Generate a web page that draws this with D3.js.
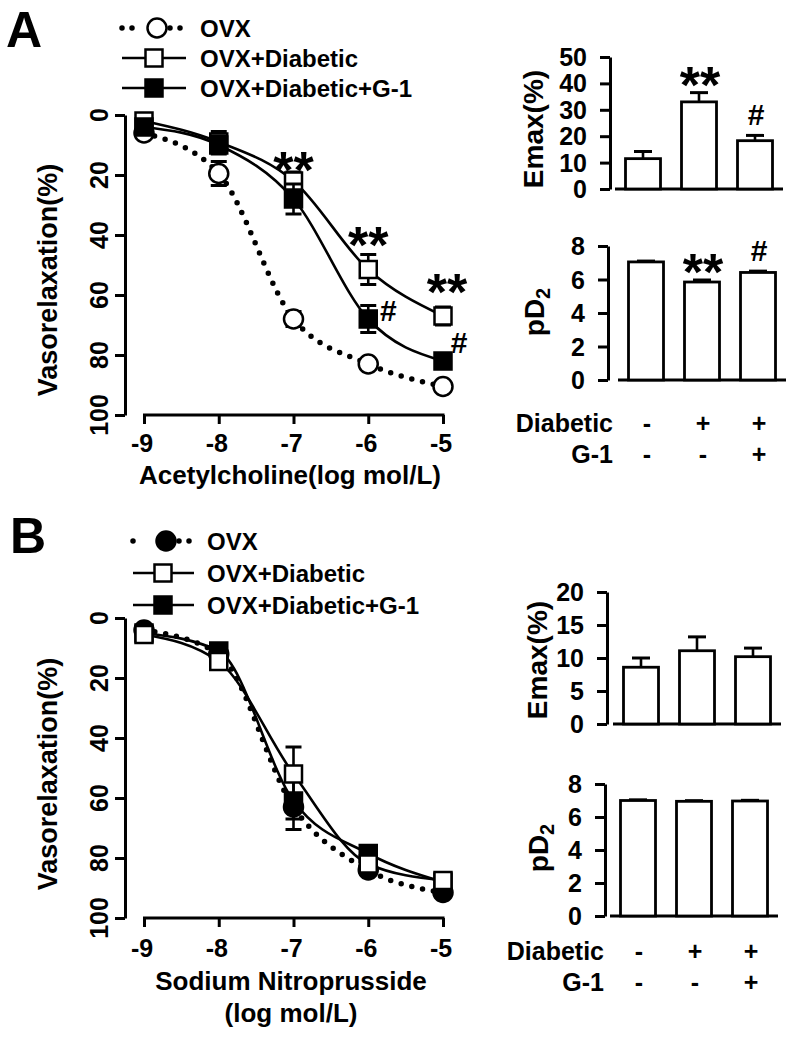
<!DOCTYPE html>
<html><head><meta charset="utf-8">
<script src="https://cdn.jsdelivr.net/npm/d3@7"></script>
<style>
body{margin:0;background:#fff}
svg{display:block}
text{font-family:"Liberation Sans",Arial,Helvetica,sans-serif;font-weight:bold;fill:#000}
</style>
</head><body>
<svg id="c" width="796" height="1037"></svg>
<script>
// ---------- data ----------
const conc = [-9, -8, -7, -6, -5];
const xTickValues = [-9, -8, -7, -6, -5];
const vasoTicks = [0, 20, 40, 60, 80, 100];
const legendNames = ["OVX", "OVX+Diabetic", "OVX+Diabetic+G-1"];

// Panel A: Acetylcholine
const achOVX = [6, 19.5, 68, 83, 90.5];
const achOVXErr = [1.5, 4, 2.5, 1.5, 1.5];
const achDiab = [2, 9, 22, 51.5, 67];
const achDiabErr = [2, 3.5, 3, 5, 3];
const achG1 = [4, 10, 28, 68, 82];
const achG1Err = [1.5, 3, 5, 4.5, 2.5];

// Panel B: Sodium nitroprusside
const snpOVX = [4, 12, 63, 84, 91.5];
const snpOVXErr = [1, 2, 4, 1.5, 1.5];
const snpDiab = [5.5, 14.5, 52, 82, 87.5];
const snpDiabErr = [1.5, 2, 9, 2, 1.5];
const snpG1 = [5, 11, 61, 78.5, 88];
const snpG1Err = [1, 2, 9.5, 1.5, 1.5];

// Bar charts
const groups = ["OVX", "OVX+Diabetic", "OVX+Diabetic+G-1"];
const diabeticSigns = ["-", "+", "+"];
const g1Signs = ["-", "-", "+"];
const emaxA = [11.5, 33, 18.3];
const emaxAErr = [2.7, 3.5, 2];
const pd2A = [7.05, 5.85, 6.42];
const pd2AErr = [0.05, 0.12, 0.08];
const emaxB = [8.6, 11.1, 10.2];
const emaxBErr = [1.4, 2.1, 1.3];
const pd2B = [7.0, 6.95, 6.97];
const pd2BErr = [0.04, 0.04, 0.04];
const emaxATicks = [0, 10, 20, 30, 40, 50];
const emaxBTicks = [0, 5, 10, 15, 20];
const pd2Ticks = [0, 2, 4, 6, 8];

// ---------- drawing ----------
const svg = d3.select("#c");
svg.append("rect").attr("width", 796).attr("height", 1037).attr("fill", "#fff");

const SW = 3;

function styleAxis(sel) {
  sel.selectAll("path,line").attr("stroke", "#000").attr("stroke-width", SW);
  sel.selectAll("text").remove();
}

function marker(g, type, cx, cy) {
  if (type === "circleOpen" || type === "circleFilled") {
    g.append("circle").attr("cx", cx).attr("cy", cy).attr("r", 9.5)
      .attr("fill", type === "circleOpen" ? "#fff" : "#000")
      .attr("stroke", "#000").attr("stroke-width", 2.5);
  } else {
    g.append("rect").attr("x", cx - 8.5).attr("y", cy - 8.5).attr("width", 17).attr("height", 17)
      .attr("fill", type === "squareOpen" ? "#fff" : "#000")
      .attr("stroke", "#000").attr("stroke-width", 2.5);
  }
}

function starText(g, txt, cx, cy) {
  if (txt === "**") {
    g.append("text").attr("x", cx).attr("y", cy + 28).attr("text-anchor", "middle")
      .attr("font-size", 52).text(txt);
  } else {
    g.append("text").attr("x", cx).attr("y", cy + 10).attr("text-anchor", "middle")
      .attr("font-size", 30).text(txt);
  }
}

function drawDose(o) {
  const g = svg.append("g");
  const x = d3.scaleLinear().domain([-9, -5]).range([144, 443]);
  const y = d3.scaleLinear().domain([0, 100]).range([o.top, o.top + 300]);

  const ya = g.append("g").attr("transform", "translate(125,0)")
    .call(d3.axisLeft(y).tickValues(vasoTicks).tickSize(10).tickSizeOuter(0));
  styleAxis(ya);
  const xa = g.append("g").attr("transform", `translate(0,${o.top + 300})`)
    .call(d3.axisBottom(x).tickValues(xTickValues).tickSize(9).tickSizeOuter(0));
  styleAxis(xa);
  xa.select("path.domain").attr("d", `M${x(-9) - 1},0H${x(-5) + 1.5}`);

  g.selectAll(".ylab").data(vasoTicks).join("text")
    .attr("transform", t => `translate(108,${y(t)}) rotate(-90)`)
    .attr("text-anchor", "middle").attr("font-size", 25).text(t => t);
  g.selectAll(".xlab").data(xTickValues).join("text")
    .attr("x", t => x(t) - 2).attr("y", o.top + 300 + o.tickLabDy)
    .attr("text-anchor", "middle").attr("font-size", 25).text(t => t);

  g.append("text").attr("transform", `translate(57,${o.titleY}) rotate(-90)`)
    .attr("text-anchor", "middle").attr("font-size", 27).text("Vasorelaxation(%)");
  o.xTitle.forEach((t, i) => {
    g.append("text").attr("x", o.xTitleX).attr("y", o.xTitleBase + i * 32)
      .attr("text-anchor", "middle").attr("font-size", 26).text(t);
  });

  const line = d3.line().x(d => x(d.c)).y(d => y(d.v)).curve(d3.curveMonotoneX);
  const series = o.series.map(s => ({ ...s, pts: conc.map((c, i) => ({ c, v: s.vals[i], e: s.errs[i] })) }));
  series.forEach(s => {
    const p = g.append("path").attr("d", line(s.pts)).attr("fill", "none").attr("stroke", "#000");
    if (s.dotted) p.attr("stroke-width", 5.5).attr("stroke-dasharray", "0 11").attr("stroke-linecap", "round");
    else p.attr("stroke-width", 2.6);
  });
  series.forEach(s => {
    s.pts.forEach(d => {
      const cx = x(d.c);
      g.append("line").attr("x1", cx).attr("x2", cx).attr("y1", y(d.v - d.e)).attr("y2", y(d.v + d.e))
        .attr("stroke", "#000").attr("stroke-width", 2.6);
      [d.v - d.e, d.v + d.e].forEach(v => g.append("line").attr("x1", cx - 8).attr("x2", cx + 8)
        .attr("y1", y(v)).attr("y2", y(v)).attr("stroke", "#000").attr("stroke-width", 3));
      marker(g, s.marker, cx, y(d.v));
    });
  });
  (o.notes || []).forEach(n => starText(g, n.t, x(n.c) + n.dx, y(n.v)));

  // legend
  o.legend.rows.forEach((ry, i) => {
    const s = o.series.find(k => k.name === legendNames[i]);
    const L = o.legend;
    if (s.dotted) {
      [[L.x1, L.mx - 20], [L.mx + 16, L.x2]].forEach(([a, b]) =>
        g.append("path").attr("d", `M${a},${ry}H${b}`).attr("stroke", "#000").attr("stroke-width", 5.5)
          .attr("stroke-dasharray", "0 10").attr("stroke-linecap", "round"));
      marker(g, s.marker, L.mx + 3, ry);
    } else {
      g.append("line").attr("x1", L.x1).attr("x2", L.x2).attr("y1", ry).attr("y2", ry)
        .attr("stroke", "#000").attr("stroke-width", 2.6);
      marker(g, s.marker, L.mx, ry);
    }
    g.append("text").attr("x", L.tx).attr("y", ry + 9).attr("font-size", 24).text(legendNames[i]);
  });
  g.append("text").attr("x", o.letterX).attr("y", o.letterY).attr("font-size", 50).text(o.letter);
}

function drawBars(o) {
  const g = svg.append("g");
  const x = d3.scaleBand().domain(groups).range([o.x0, o.x0 + 168]).paddingInner(0.375).paddingOuter(0.1875);
  const y = d3.scaleLinear().domain([0, o.ticks[o.ticks.length - 1]]).range([o.base, o.topPx]);
  const ya = g.append("g").attr("transform", `translate(${o.axisX},0)`)
    .call(d3.axisLeft(y).tickValues(o.ticks).tickSize(10).tickSizeOuter(0));
  styleAxis(ya);
  g.selectAll(".bl").data(o.ticks).join("text")
    .attr("x", o.axisX - 23).attr("y", t => y(t) + 9).attr("text-anchor", "end")
    .attr("font-size", 25).text(t => t);
  g.append("line").attr("x1", o.x0).attr("x2", o.x0 + 168).attr("y1", y(0)).attr("y2", y(0))
    .attr("stroke", "#000").attr("stroke-width", SW);
  groups.forEach((k, i) => {
    const v = o.vals[i], e = o.errs[i], cx = x(k) + x.bandwidth() / 2;
    g.append("line").attr("x1", cx).attr("x2", cx).attr("y1", y(v)).attr("y2", y(v + e))
      .attr("stroke", "#000").attr("stroke-width", 2.6);
    g.append("line").attr("x1", cx - 9).attr("x2", cx + 9).attr("y1", y(v + e)).attr("y2", y(v + e))
      .attr("stroke", "#000").attr("stroke-width", 3);
    g.append("rect").attr("x", x(k)).attr("y", y(v)).attr("width", x.bandwidth()).attr("height", y(0) - y(v))
      .attr("fill", "#fff").attr("stroke", "#000").attr("stroke-width", 2.8);
    if (o.notes && o.notes[i]) starText(g, o.notes[i], cx + 1, y(v + e) - (o.notes[i] === "**" ? 18 : 20));
  });
  const t = g.append("text").attr("transform", `translate(${o.labelX},${o.labelY}) rotate(-90)`)
    .attr("text-anchor", "middle").attr("font-size", 28);
  if (o.label === "pD2") {
    t.append("tspan").text("pD");
    t.append("tspan").attr("font-size", 20).attr("dy", 6).text("2");
  } else t.text(o.label);
  if (o.signs) {
    const rows = [["Diabetic", diabeticSigns], ["G-1", g1Signs]];
    rows.forEach(([name, signs], r) => {
      const by = o.signY + r * 31;
      g.append("text").attr("x", o.signLabelX).attr("y", by).attr("text-anchor", "end")
        .attr("font-size", 25).text(name);
      groups.forEach((k, i) => g.append("text").attr("x", x(k) + x.bandwidth() / 2 + 1).attr("y", by)
        .attr("text-anchor", "middle").attr("font-size", 25).text(signs[i]));
    });
  }
}

// Panel A
drawDose({
  top: 115, titleY: 280, tickLabDy: 37, xTitle: ["Acetylcholine(log mol/L)"], xTitleX: 290, xTitleBase: 484,
  letter: "A", letterX: 6, letterY: 47,
  series: [
    { name: "OVX", vals: achOVX, errs: achOVXErr, marker: "circleOpen", dotted: true },
    { name: "OVX+Diabetic", vals: achDiab, errs: achDiabErr, marker: "squareOpen" },
    { name: "OVX+Diabetic+G-1", vals: achG1, errs: achG1Err, marker: "squareFilled" }
  ],
  notes: [
    { t: "**", c: -7, v: 15, dx: 0 }, { t: "**", c: -6, v: 40, dx: 0 }, { t: "**", c: -5, v: 55.7, dx: 4 },
    { t: "#", c: -6, v: 65.3, dx: 20 }, { t: "#", c: -5, v: 76, dx: 16 }
  ],
  legend: { rows: [28, 58, 88], x1: 122, x2: 186, mx: 154, tx: 200 }
});

// Panel B
drawDose({
  top: 618, titleY: 774, tickLabDy: 39, xTitle: ["Sodium Nitroprusside", "(log mol/L)"], xTitleX: 291, xTitleBase: 990,
  letter: "B", letterX: 10, letterY: 553,
  series: [
    { name: "OVX+Diabetic+G-1", vals: snpG1, errs: snpG1Err, marker: "squareFilled" },
    { name: "OVX", vals: snpOVX, errs: snpOVXErr, marker: "circleFilled", dotted: true },
    { name: "OVX+Diabetic", vals: snpDiab, errs: snpDiabErr, marker: "squareOpen" }
  ],
  notes: [],
  legend: { rows: [541, 573, 605], x1: 133, x2: 194, mx: 163, tx: 207 }
});

drawBars({ x0: 615, axisX: 610, base: 189, topPx: 57, ticks: emaxATicks, vals: emaxA, errs: emaxAErr,
  label: "Emax(%)", labelX: 543, labelY: 129, notes: [null, "**", "#"] });
drawBars({ x0: 618, axisX: 608, base: 380, topPx: 246, ticks: pd2Ticks, vals: pd2A, errs: pd2AErr,
  label: "pD2", labelX: 544, labelY: 312, notes: [null, "**", "#"], signs: true, signY: 432, signLabelX: 613 });
drawBars({ x0: 613, axisX: 607, base: 724, topPx: 592, ticks: emaxBTicks, vals: emaxB, errs: emaxBErr,
  label: "Emax(%)", labelX: 547, labelY: 660 });
drawBars({ x0: 610, axisX: 605, base: 916, topPx: 784, ticks: pd2Ticks, vals: pd2B, errs: pd2BErr,
  label: "pD2", labelX: 548, labelY: 848, signs: true, signY: 960, signLabelX: 604 });
</script>
</body></html>
